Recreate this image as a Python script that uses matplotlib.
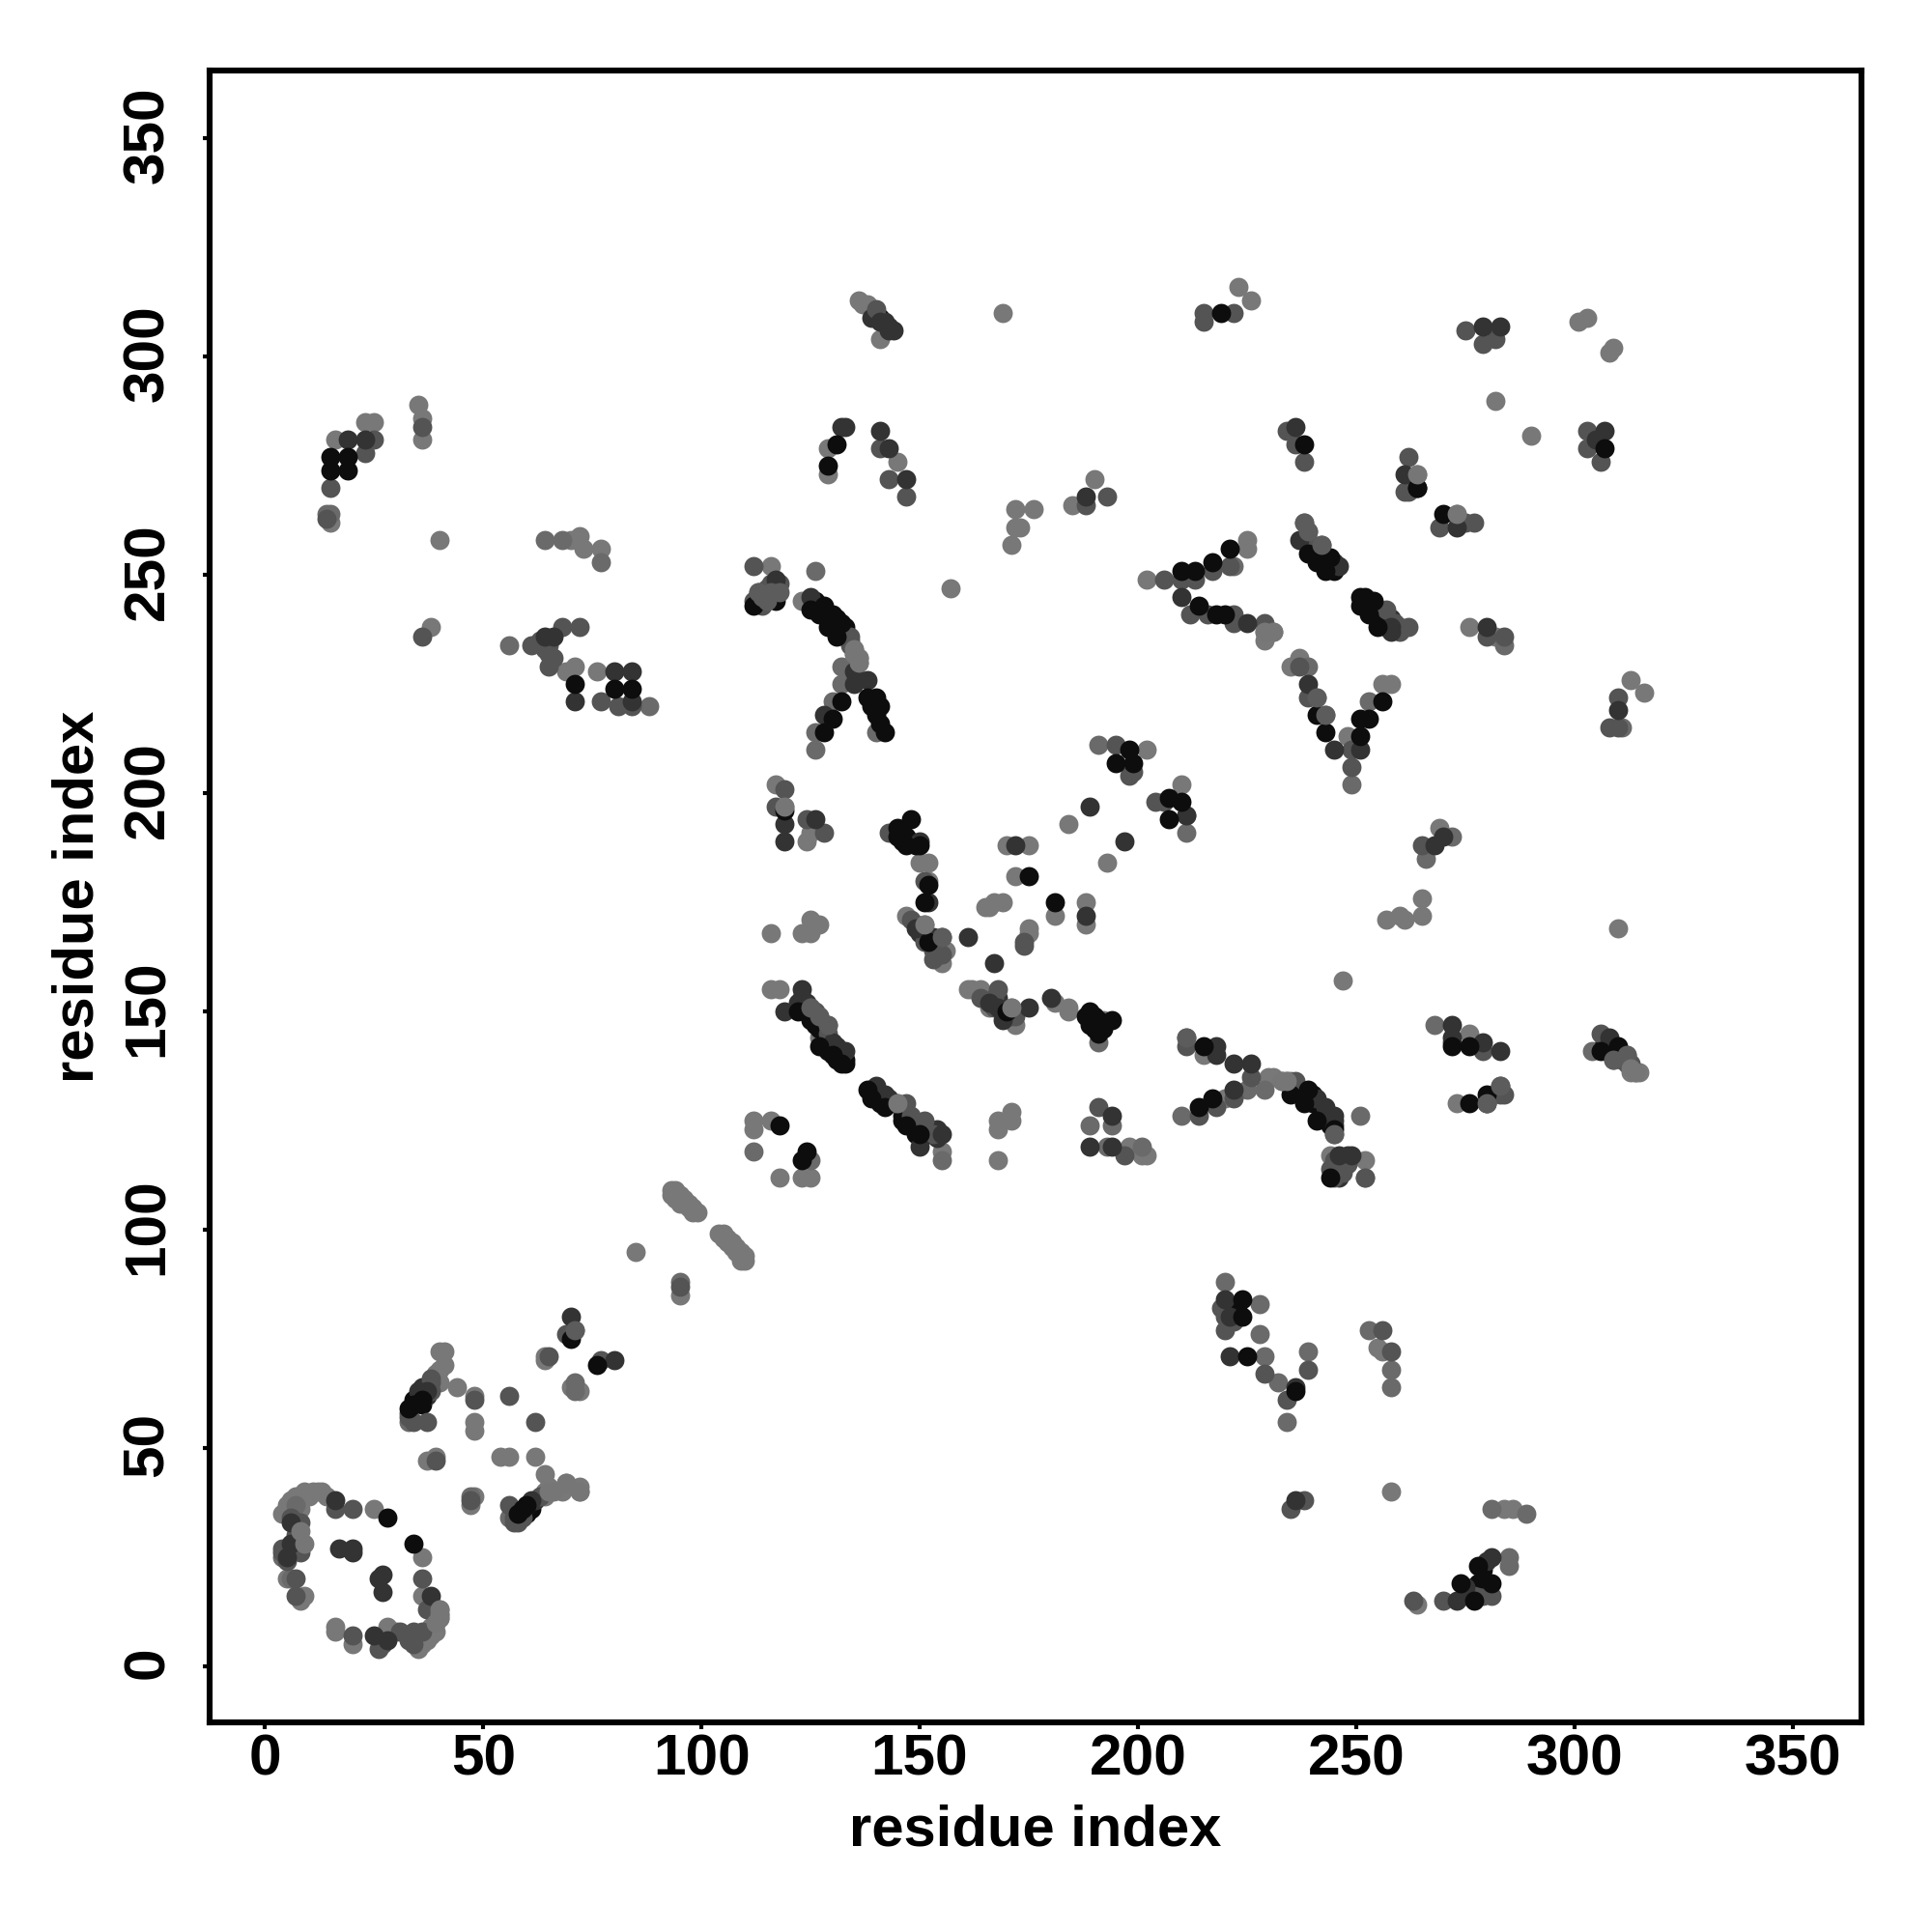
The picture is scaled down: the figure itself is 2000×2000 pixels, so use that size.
import matplotlib
matplotlib.use("Agg")
import matplotlib.pyplot as plt
from matplotlib.transforms import ScaledTranslation

plt.rcParams['font.family'] = ['Liberation Sans', 'DejaVu Sans']

light = [(25,36),(36,25),(36,16),(40,13),(40,12),(40,11),(39,10),(38,9),(35,4),(34,7),(28,9),(30,8),(20,5),(16,9),(16,8),(9,16),(8,15),(5,20),(4,35),(5,36),(13,40),(11,40),(10,39),(8,38),(7,37),(40,72),(41,72),(41,69),(40,68),(44,64),(40,65),(48,62),(48,56),(48,54),(37,47),(39,48),(54,48),(56,48),(62,48),(64,44),(48,39),(47,37),(69,42),(72,40),(72,41),(68,40),(65,40),(64,39),(64,71),(64,70),(70,64),(72,63),(85,95),(95,85),
(93,109),(94,108),(95,107),(94,109),(96,106),(97,105),(98,104),(104,99),(105,98),(106,97),(107,96),(108,95),(109,94),(109,93),
(116,252),(123,244),(135,232),(136,230),(135,230),(117,202),(119,197),(125,191),(124,189),(150,184),(152,184),(152,180),(147,172),(151,170),(156,164),(155,161),(116,168),(123,168),(125,168),(125,171),(127,170),(165,174),(166,174),(169,175),(167,175),
(170,188),(175,188),(172,181),(175,169),(175,168),(181,172),(188,175),(188,170),(184,193),(193,184),(202,210),(210,202),(157,247),(169,310),
(202,249),(225,258),(225,256),(231,237),(229,237),(229,235),(237,231),(235,229),(248,213),(256,225),(258,225),(276,238),(282,236),(273,264),
(116,155),(118,155),(127,144),(145,129),(155,118),(112,125),(112,123),(116,125),(118,112),(123,112),(125,112),(168,125),(171,125),(168,123),(168,116),(171,127),
(161,155),(162,155),(164,155),(166,151),(171,151),(172,147),(181,152),(184,151),(184,150),(192,148),(198,119),(202,117),(201,117),
(215,140),(220,130),(230,135),(231,135),(233,134),(252,116),(244,117),(246,113),(276,145),(273,129),(314,136),(313,137),(315,136),(136,313),(138,312),(141,304),
(223,316),(226,313),(301,308),(303,309),(309,302),(308,301),(282,290),(290,282),(264,273),(129,279),(129,273),(145,276),(171,257),(172,265),(176,265),(172,261),(173,261),(185,266),(190,272),
(15,262),(16,281),(23,285),(25,285),(35,289),(36,286),(36,281),(40,258),(38,238),(72,259),(70,258),(73,256),(77,256),(69,228),(71,229),(76,228),(255,73),(256,72),(258,40),(284,36),(286,36),(264,14),(257,171),(260,172),(261,171),(265,172),(265,176),(269,192),(316,223),(313,226),(247,157),(310,169)]

light_extra = [(5,37),(6,38),(7,39),(9,40),(12,40),(14,39),(8,36),(7,35),(36,5),(37,6),(38,7),(39,8),(39,67),(64,40),(65,41),
(95,108),(96,107),(97,106),(98,105),(99,104),(105,99),(106,98),(107,97),(108,96),(109,95),(110,94),(110,93),(93,108),(94,107),(95,106),
(135,233),(136,231),(234,134),(235,134),(313,136),(137,312)]

light_mid = [(4,25),(6,20),(56,34),(33,56),(47,39),(71,65),(71,63),(95,88),(126,214),(126,210),(126,251),(191,211),(211,191),(140,214),(132,229),(132,225),(130,221),
(112,118),(125,116),(155,116),(191,143),(194,124),(189,124),(193,119),(201,119),(210,126),(225,132),(229,132),(251,126),(252,112),(304,141),(268,147),(280,129),
(239,229),(243,218),(249,202),(253,221),(241,222),(284,234),(222,252),(228,83),(220,88),(228,76),(229,71),(232,65),(239,72),(234,56),(253,77),(258,68),(258,64),(285,25),(285,23),(281,36),(289,35),(272,190),(266,185),(311,215),
(56,234),(64,258),(68,258),(77,253),(88,220),(14,264),(15,264),(7,37)]

mid = [(20,36),(16,36),(36,20),(37,13),(34,8),(31,8),(26,4),(27,5),(20,7),(7,20),(7,16),(4,26),(8,33),(7,30),(38,65),(33,58),(37,56),(48,61),(56,62),(62,56),(39,47),(47,38),(56,37),(57,33),(58,34),(71,77),(69,76),(77,70),(65,71),(95,87),
(112,252),(112,244),(113,245),(134,236),(119,201),(117,197),(124,194),(128,191),(143,191),(151,180),(151,166),(153,164),(155,167),(174,166),(174,165),(148,171),(195,211),(199,205),(198,204),(204,198),(206,198),(211,195),
(206,249),(210,249),(213,249),(217,251),(221,252),(216,241),(222,241),(222,239),(229,239),(238,262),(239,260),(242,257),(257,242),(260,238),(262,238),(280,236),(284,236),(237,229),(239,222),(249,210),(249,206),(262,269),(269,261),(275,262),(277,262),
(125,151),(127,149),(129,147),(147,129),(148,126),(151,125),(153,122),(191,128),(197,117),(168,155),(164,153),(172,149),
(211,144),(211,142),(226,135),(222,130),(218,128),(214,126),(236,134),(235,133),(245,122),(244,114),(248,115),(245,112),(252,112),(272,143),(279,141),(283,133),(284,131),(280,129),(283,131),(306,145),(309,139),(312,140),(313,138),
(140,311),(215,308),(215,310),(222,310),(275,306),(279,303),(282,304),(303,283),(303,279),(306,276),(234,283),(236,280),(238,276),(262,277),(261,269),(141,279),(143,272),(147,268),(188,266),(193,268),
(14,263),(15,270),(23,278),(25,281),(36,284),(36,236),(61,234),(68,238),(72,238),(65,229),(77,221),(81,220),(84,220),(220,80),(220,77),(229,67),(239,68),(234,61),(256,77),(258,72),(238,38),(235,36),(263,15),(270,15),(281,16),(265,188),(310,222),(308,215),(310,215),(212,241)]

mid_extra = [(5,24),(4,27),(6,27),(7,28),(8,26),(6,34),(36,8),(34,5),(33,6),(38,66),(38,63),(33,57),(34,56),(57,34),(58,33),(63,39),(59,34),
(134,234),(134,235),(126,150),(129,145),(144,129),(148,125),(150,124),(239,258),(240,256),(259,239),(260,237),(236,133),(237,132),(308,142),(311,140),(312,138),
(245,116),(246,115),(245,114),(247,113),(113,246),(115,247),(116,248),(118,248),(114,243),(279,16),(275,16),(277,16),(63,235),(65,234),(65,232),(66,231),(64,233),(219,82),(222,79),(153,162),(154,163),(155,163),(167,153),(167,151),(171,149)]

dark = [(16,38),(38,16),(25,7),(28,6),(17,27),(20,27),(20,26),(27,21),(26,20),(27,17),(6,28),(5,25),(6,33),(35,63),(37,63),(61,38),(60,37),(70,80),(80,70),(188,268),
(117,249),(117,246),(125,245),(135,228),(135,225),(138,226),(128,218),(119,193),(119,189),(126,194),(150,189),(152,175),(149,169),(161,167),(167,161),(172,188),(188,172),(189,197),(197,189),(211,195),
(210,245),(225,239),(237,258),(246,252),(258,238),(258,237),(280,238),(239,225),(245,210),(251,210),(273,261),
(123,155),(119,150),(122,152),(130,143),(133,141),(140,133),(143,130),(155,122),(150,119),(194,126),(189,119),(194,119),(166,152),(168,151),(169,148),(175,151),(180,153),
(218,142),(218,140),(222,138),(226,138),(222,132),(241,130),(243,128),(245,126),(246,117),(249,117),(272,147),(272,144),(279,143),(283,141),(308,144),
(141,308),(143,307),(144,306),(279,307),(283,307),(305,281),(307,283),(236,284),(261,273),(132,284),(133,284),(141,283),(143,279),(147,272),
(19,281),(23,281),(64,236),(66,236),(71,221),(80,228),(84,228),(84,221),(220,84),(221,80),(221,71),(236,64),(236,38),(273,15),(275,18),(281,25),(268,188),(270,190),(310,219)]

dark_extra = [(36,64),(37,62),(62,38),(123,153),(124,152),(131,142),(132,141),(142,131),(154,123),(154,121),(245,253),(258,240),(245,124),(245,125),(139,309),(142,308),(143,306),(246,112),(247,116),(248,117),(280,24),(150,168),(153,167),(154,166),(149,170),(168,153),(170,149)]

black = [(28,34),(34,28),(34,60),(36,61),(33,59),(58,35),(59,36),(60,37),(70,75),(76,69),
(117,244),(112,243),(125,242),(128,243),(130,241),(132,239),(129,238),(131,236),(132,221),(130,217),(128,214),(138,222),(140,222),(140,218),(142,214),(119,196),
(145,192),(148,194),(145,190),(147,188),(150,188),(151,175),(152,166),(152,179),(175,181),(181,175),(198,210),(195,207),(199,207),(207,199),(210,198),(207,194),
(210,251),(213,251),(217,253),(221,256),(214,243),(218,241),(220,241),(239,255),(241,253),(244,254),(243,251),(252,245),(251,243),(254,244),(253,241),(255,238),(241,218),(243,214),(251,213),(251,217),(253,217),(256,221),(264,270),(270,264),
(122,150),(125,148),(127,142),(130,140),(132,138),(138,132),(139,130),(142,128),(147,124),(150,122),(118,124),(124,118),(123,116),(170,150),(189,150),(189,147),(191,147),(194,148),(191,145),
(215,142),(214,128),(217,130),(235,131),(239,132),(238,129),(241,125),(245,123),(244,112),(272,142),(276,142),(276,129),(280,131),(306,141),(310,142),
(219,310),(307,279),(238,280),(264,270),(131,280),(129,275),(15,274),(15,277),(19,277),(19,274),(71,225),(80,224),(84,224),(224,84),(224,80),(225,71),(236,63),(274,19),(277,15),(278,23),(281,19),(279,20)]

black_extra = [(35,62),(34,61),(36,60),(59,35),(60,36),(61,37),(60,35),(61,36),
(126,244),(127,243),(127,241),(128,241),(129,240),(130,239),(131,238),(131,240),(133,238),(133,237),(132,237),(141,220),(141,216),(139,220),
(124,150),(126,147),(128,146),(127,146),(128,143),(129,141),(131,139),(133,139),(133,138),(139,132),(140,131),(141,130),(141,129),(146,126),(146,125),(149,123),(149,122),(152,122),
(241,255),(242,253),(242,255),(243,252),(244,252),(245,251),(251,245),(252,243),(253,244),(254,242),(255,241),(256,240),(256,239),(257,238),
(238,131),(239,130),(240,131),(240,129),(242,128),(242,126),(243,126),(244,125),(244,124),(307,143),(309,141),(310,140),(311,139),
(146,191),(147,190),(148,189),(149,188),(146,189),(188,149),(190,149),(190,146),(191,148),(192,146),(276,17),(277,18),(278,19),(279,22),(279,18),(222,82),(223,81),(140,310),(141,309),(151,168)]

mid_top = [(238,262),(239,260),(242,257),(127,149),(129,147),(125,151),(241,222),(243,218),(280,129),(283,133),(211,144),(309,139),(312,140),(245,122),(71,77),(155,167),(113,246),(115,244),(116,246),(118,246),(114,245)]
light_top = [(135,232),(136,230),(119,197),(151,170),(229,237),(231,237),(273,264),(9,28),(8,31),(40,13),(40,12),(69,42),(72,40),(314,136),(145,129),(171,151),(264,273),(40,11),(39,10),(135,233),(136,231),(234,134),(233,134),(313,137),(66,40),(65,40)]

layers = [(light + light_extra, '#787878'), (light_mid, '#6a6a6a'), (black_extra, '#0d0d0d'), (dark_extra, '#333333'),
          (mid + mid_extra, '#545454'), (dark, '#333333'), (black, '#0d0d0d'),
          (mid_top, '#5c5c5c'), (light_top, '#767676')]

fig = plt.figure(figsize=(20, 20), dpi=100)
ax = fig.add_axes([217/2000, 1 - 1783/2000, 1710/2000, 1710/2000])
for pts, colour in layers:
    ax.scatter([p[0] for p in pts], [p[1] for p in pts], s=205, c=colour, linewidths=0, zorder=3)

ax.set_xlim(-12.7, 365.8)
ax.set_ylim(-12.9, 365.6)
ticks = [0, 50, 100, 150, 200, 250, 300, 350]
ax.set_xticks(ticks)
ax.set_yticks(ticks)
ax.set_xticklabels([str(t) for t in ticks], fontsize=43.5, fontweight='bold')
ax.set_yticklabels([str(t) for t in ticks], fontsize=43.5, fontweight='bold', rotation=90, va='center')
ax.tick_params(axis='x', length=5, width=3, pad=3)
ax.tick_params(axis='y', length=5, width=3, pad=21)
shift_up = ScaledTranslation(0, 2.5/72, fig.dpi_scale_trans)
for label in ax.get_yticklabels():
    label.set_transform(label.get_transform() + shift_up)
for s in ax.spines.values():
    s.set_linewidth(4.4)
fig.text(1072/2000, 1 - 1895/2000, 'residue index', fontsize=43, fontweight='bold', ha='center', va='center')
fig.text(81/2000, 1 - 928/2000, 'residue index', fontsize=43, fontweight='bold', ha='center', va='center', rotation=90)
fig.savefig('out.png', dpi=100, facecolor='white')
